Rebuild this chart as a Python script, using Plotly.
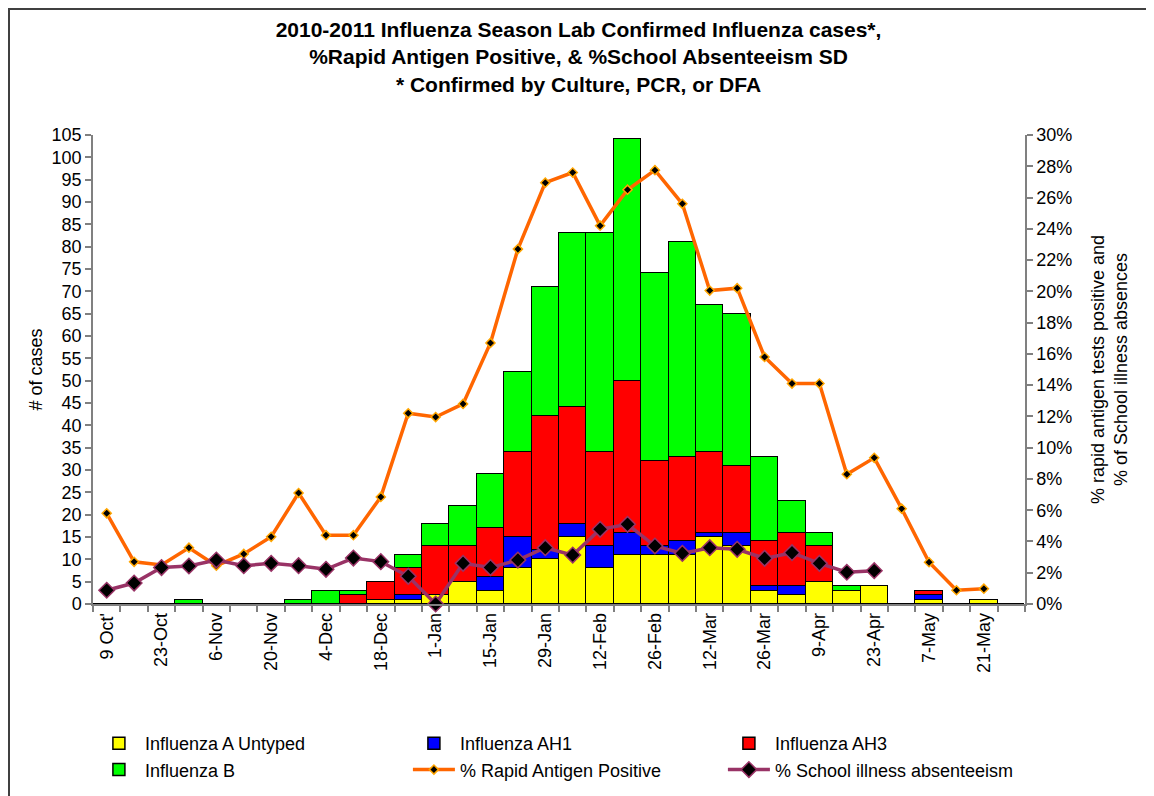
import plotly.graph_objects as go

# ---------------- data ----------------
weeks = ["9-Oct", "16-Oct", "23-Oct", "30-Oct", "6-Nov", "13-Nov", "20-Nov", "27-Nov",
         "4-Dec", "11-Dec", "18-Dec", "25-Dec", "1-Jan", "8-Jan", "15-Jan", "22-Jan",
         "29-Jan", "5-Feb", "12-Feb", "19-Feb", "26-Feb", "5-Mar", "12-Mar", "19-Mar",
         "26-Mar", "2-Apr", "9-Apr", "16-Apr", "23-Apr", "30-Apr", "7-May", "14-May",
         "21-May", "28-May"]

tick_labels = ["9 Oct'", "23-Oct", "6-Nov", "20-Nov", "4-Dec", "18-Dec", "1-Jan", "15-Jan",
               "29-Jan", "12-Feb", "26-Feb", "12-Mar", "26-Mar", "9-Apr", "23-Apr", "7-May",
               "21-May"]

flu_a_untyped = [0, 0, 0, 0, 0, 0, 0, 0, 0, 0, 1, 1, 2, 5, 3, 8, 10, 15, 8, 11, 11, 11, 15, 13,
                 3, 2, 5, 3, 4, 0, 1, 0, 1, 0]
flu_ah1 = [0, 0, 0, 0, 0, 0, 0, 0, 0, 0, 0, 1, 0, 0, 3, 7, 2, 3, 5, 5, 2, 3, 1, 3,
           1, 2, 0, 0, 0, 0, 1, 0, 0, 0]
flu_ah3 = [0, 0, 0, 0, 0, 0, 0, 0, 0, 2, 4, 6, 11, 8, 11, 19, 30, 26, 21, 34, 19, 19, 18, 15,
           10, 12, 8, 0, 0, 0, 1, 0, 0, 0]
flu_b = [0, 0, 0, 1, 0, 0, 0, 1, 3, 1, 0, 3, 5, 9, 12, 18, 29, 39, 49, 54, 42, 48, 33, 34,
         19, 7, 3, 1, 0, 0, 0, 0, 0, 0]

rapid_pos = [0.058, 0.027, 0.025, 0.036, 0.0245, 0.032, 0.043, 0.071, 0.044, 0.044, 0.0685,
             0.122, 0.1196, 0.128, 0.167, 0.227, 0.2695, 0.276, 0.242, 0.265, 0.2775, 0.256,
             0.2005, 0.202, 0.158, 0.141, 0.141, 0.083, 0.0935, 0.061, 0.0267, 0.0088, 0.0098,
             None]
school_abs = [0.0088, 0.0134, 0.0233, 0.0243, 0.0281, 0.0245, 0.026, 0.0245, 0.0222, 0.0294,
              0.0271, 0.0177, 0.0, 0.026, 0.0233, 0.0281, 0.036, 0.0313, 0.0478, 0.051, 0.0371,
              0.0324, 0.036, 0.035, 0.0292, 0.0328, 0.026, 0.0203, 0.0213, None, None, None,
              None, None]

# ---------------- figure ----------------
x = list(range(len(weeks)))
FONT = "Liberation Sans, Arial, sans-serif"

fig = go.Figure()
bar_series = [("Influenza A Untyped", flu_a_untyped, "#FFFF00"),
              ("Influenza AH1", flu_ah1, "#0000FF"),
              ("Influenza AH3", flu_ah3, "#FF0000"),
              ("Influenza B", flu_b, "#00FF00")]
for name, vals, col in bar_series:
    fig.add_trace(go.Bar(x=x, y=vals, name=name, customdata=weeks,
                         marker=dict(color=col, line=dict(color="black", width=1.5)),
                         hovertemplate="%{customdata}: %{y}<extra>" + name + "</extra>"))

fig.add_trace(go.Scatter(x=x, y=rapid_pos, name="% Rapid Antigen Positive", yaxis="y2",
                         mode="lines+markers", cliponaxis=False,
                         line=dict(color="#FF6600", width=3.5),
                         marker=dict(symbol="diamond", size=7, color="black",
                                     line=dict(color="#FFA500", width=1.5))))
fig.add_trace(go.Scatter(x=x, y=school_abs, name="% School illness absenteeism", yaxis="y2",
                         mode="lines+markers", cliponaxis=False,
                         line=dict(color="#993366", width=3.5),
                         marker=dict(symbol="diamond", size=12, color="black",
                                     line=dict(color="#993366", width=1.5))))

# page is drawn with an 8px body offset; positions below are in figure pixels
W, H = 1154, 796
OFF = 8
L, T = 93 - OFF, 135 - OFF
PR, PB = 1025 - OFF, 604 - OFF
R, B = W - PR, H - PB
pw, ph = PR - L, PB - T


def px_x(p):
    return (p - L) / pw


def px_y(p):
    return (PB - p) / ph


fig.update_layout(
    width=W, height=H,
    margin=dict(l=L, r=R, t=T, b=B),
    paper_bgcolor="white", plot_bgcolor="white",
    font=dict(family=FONT, size=18, color="black"),
    barmode="stack", bargap=0,
    title=dict(text="<b>2010-2011 Influenza Season Lab Confirmed Influenza cases*,<br>"
                    "%Rapid Antigen Positive, & %School Absenteeism SD<br>"
                    "* Confirmed by Culture, PCR, or DFA</b>",
               x=570.5 / W, xanchor="center", xref="container",
               y=1 - 29.1 / H, yanchor="middle", yref="container",
               font=dict(size=21, family=FONT, color="black")),
    xaxis=dict(range=[-0.5, len(weeks) - 0.5], tickmode="array",
               tickvals=x[::2], ticktext=tick_labels, tickangle=-90, ticks="",
               showline=True, linecolor="#808080", linewidth=1.5, showgrid=False,
               zeroline=False, tickfont=dict(size=18),
               minor=dict(tickmode="array", tickvals=[i - 0.5 for i in range(len(weeks) + 1)],
                          ticks="outside", ticklen=6, tickcolor="#808080", tickwidth=1.5,
                          showgrid=False)),
    yaxis=dict(range=[0, 105], dtick=5, tick0=0, ticks="outside", ticklen=6,
               tickcolor="#808080", tickwidth=1.5, showline=True, linecolor="#808080",
               linewidth=1.5, showgrid=False, zeroline=False, tickfont=dict(size=18),
               title=dict(text="# of cases", font=dict(size=18), standoff=4)),
    yaxis2=dict(range=[0, 0.30], dtick=0.02, tick0=0, tickformat=".0%", overlaying="y",
                side="right", ticks="outside", ticklen=6, tickcolor="#808080", tickwidth=1.5,
                showline=True, linecolor="#808080", linewidth=1.5, showgrid=False,
                zeroline=False, tickfont=dict(size=18),
                title=dict(text="% rapid antigen tests positive and<br>% of School illness absences",
                           font=dict(size=18), standoff=20)),
    legend=dict(orientation="h", x=-0.0001, xanchor="left", y=px_y(717), yanchor="top",
                entrywidth=258, entrywidthmode="pixels", itemwidth=42,
                font=dict(size=18), traceorder="normal", bgcolor="rgba(0,0,0,0)"),
    shapes=[dict(type="rect", xref="paper", yref="paper",
                 x0=px_x(1), x1=px_x(1180), y0=px_y(820), y1=px_y(1),
                 line=dict(color="#404040", width=2), fillcolor="rgba(0,0,0,0)",
                 layer="below")],
    showlegend=True,
)

fig.write_html("out.html")
